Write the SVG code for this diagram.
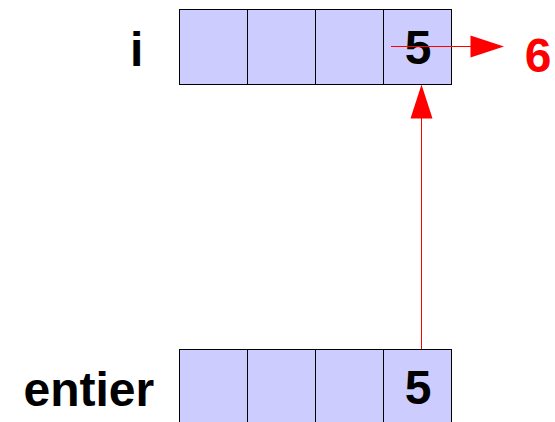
<svg xmlns="http://www.w3.org/2000/svg" width="555" height="422" viewBox="0 0 555 422">
<style>
.cell{fill:#ccccff;stroke:#000;stroke-width:1}
.lbl{font-family:"Liberation Sans",Arial,sans-serif;font-weight:bold;font-size:48px;fill:#000}
.red{fill:#ff0000}
.conn{stroke:#ff0000;stroke-width:1;fill:none}
</style>
<rect width="555" height="422" fill="#fff"/>
<g id="i">
<text class="lbl" x="130" y="65.5">i</text>
<rect class="cell" x="179.5" y="9.5" width="68" height="75"/>
<rect class="cell" x="247.5" y="9.5" width="68" height="75"/>
<rect class="cell" x="315.5" y="9.5" width="68" height="75"/>
<rect class="cell" x="383.5" y="9.5" width="68" height="75"/>
<text class="lbl" x="418" y="64" text-anchor="middle">5</text>
</g>
<g id="entier">
<text class="lbl" x="23.5" y="406">entier</text>
<rect class="cell" x="179.5" y="349.5" width="68" height="75"/>
<rect class="cell" x="247.5" y="349.5" width="68" height="75"/>
<rect class="cell" x="315.5" y="349.5" width="68" height="75"/>
<rect class="cell" x="383.5" y="349.5" width="68" height="75"/>
<text class="lbl" x="418" y="404" text-anchor="middle">5</text>
</g>
<g id="six">
<text class="lbl red" x="538" y="71.5" text-anchor="middle">6</text>
</g>
<g id="connectors">
<line class="conn" x1="391" y1="46.5" x2="471" y2="46.5"/>
<polygon class="red" points="470.5,35.5 504,46.5 470.5,57.5"/>
<line class="conn" x1="421.5" y1="349" x2="421.5" y2="117"/>
<polygon class="red" points="410.5,118.5 421.5,84.5 432.5,118.5"/>
</g>
</svg>
